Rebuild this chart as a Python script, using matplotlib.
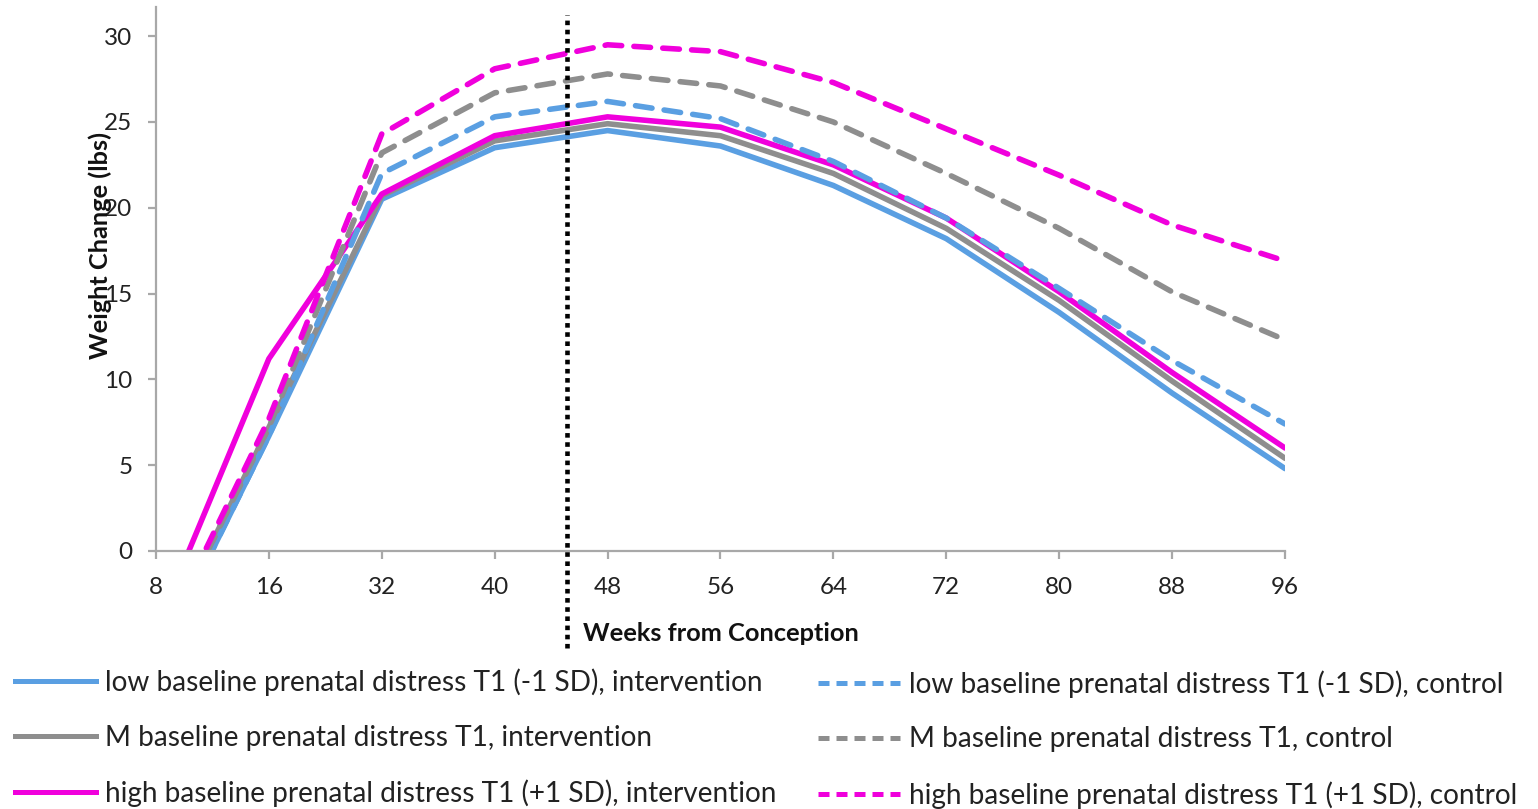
import matplotlib.pyplot as plt
from matplotlib.lines import Line2D

plt.rcParams['font.family'] = ['Lato', 'DejaVu Sans']

# x categories (weeks from conception), evenly spaced like an Excel category axis
week_labels = ['8', '16', '32', '40', '48', '56', '64', '72', '80', '88', '96']

# weight change (lbs) per group; first point lies below the axis and is clipped
low_int = [-6.6, 6.7, 20.5, 23.5, 24.5, 23.6, 21.3, 18.2, 13.9, 9.2, 4.8]
m_int = [-6.1, 7.2, 20.7, 23.9, 24.9, 24.2, 22.0, 18.8, 14.6, 9.9, 5.4]
high_int = [-4.6, 11.2, 20.8, 24.2, 25.3, 24.7, 22.5, 19.4, 15.1, 10.4, 6.0]
low_ctrl = [-6.6, 6.7, 22.0, 25.3, 26.2, 25.2, 22.7, 19.4, 15.3, 11.1, 7.4]
m_ctrl = [-6.1, 7.2, 23.2, 26.7, 27.8, 27.1, 25.0, 22.0, 18.8, 15.1, 12.3]
high_ctrl = [-5.9, 7.7, 24.3, 28.1, 29.5, 29.1, 27.3, 24.6, 21.9, 19.0, 16.9]

labels_int = ['low baseline prenatal distress T1 (-1 SD), intervention',
              'M baseline prenatal distress T1, intervention',
              'high baseline prenatal distress T1 (+1 SD), intervention']
labels_ctrl = ['low baseline prenatal distress T1 (-1 SD), control',
               'M baseline prenatal distress T1, control',
               'high baseline prenatal distress T1 (+1 SD), control']

# end of intervention, in category positions
divider_pos = 3.64

blue = '#5A9FE2'
gray = '#8E8E8E'
magenta = '#F000DC'
colors = [blue, gray, magenta]

fig = plt.figure(figsize=(15.38, 8.09), dpi=100)
ax = fig.add_axes([0.1014, 0.319, 0.7341, 0.6723])

x = list(range(len(week_labels)))
lw = 4.0
dash = (3.0, 2.2)

for ys, c in zip([low_int, m_int, high_int], colors):
    ax.plot(x, ys, color=c, lw=lw, solid_joinstyle='round', solid_capstyle='round')
for ys, c in zip([low_ctrl, m_ctrl, high_ctrl], colors):
    ax.plot(x, ys, color=c, lw=lw, dashes=dash, dash_capstyle='round',
            dash_joinstyle='round')

ax.axvline(divider_pos, ymin=-0.178, ymax=0.985, color='black', lw=3.3,
           linestyle=(0, (1, 1)), clip_on=False, zorder=5)

ax.set_xlim(0, 10)
ax.set_ylim(0, 31.7)
ax.set_xticks(x)
ax.set_xticklabels(week_labels)
ax.set_yticks([0, 5, 10, 15, 20, 25, 30])

for s in ['top', 'right']:
    ax.spines[s].set_visible(False)
for s in ['left', 'bottom']:
    ax.spines[s].set_color('#A8A8A8')
    ax.spines[s].set_linewidth(1.6)

ax.tick_params(axis='both', colors='#A8A8A8', labelcolor='#222222',
               labelsize=17.5, length=6, width=1.6)
ax.tick_params(axis='y', pad=11)
ax.tick_params(axis='x', pad=13)

ax.set_xlabel('Weeks from Conception', fontsize=18.3, fontweight='bold', color='#111111')
ax.xaxis.set_label_coords(0.5, -0.131)
ax.set_ylabel('Weight Change (lbs)', fontsize=18.3, fontweight='bold', color='#111111')
ax.yaxis.set_label_coords(-0.039, 0.5625)

h_int = [Line2D([], [], color=c, lw=3.6) for c in colors]
h_ctrl = [Line2D([], [], color=c, lw=3.6, dashes=(2.2, 1.4)) for c in colors]

common = dict(frameon=False, fontsize=20.2, handlelength=2.9, handletextpad=0.32,
              labelspacing=1.02, borderaxespad=0, borderpad=0,
              labelcolor='#222222')
leg1 = fig.legend(h_int, labels_int, loc='upper left',
                  bbox_to_anchor=(0.0098, 0.1735), **common)
leg2 = fig.legend(h_ctrl, labels_ctrl, loc='upper left',
                  bbox_to_anchor=(0.532, 0.1715), **common)

fig.savefig('out.png', dpi=100)
